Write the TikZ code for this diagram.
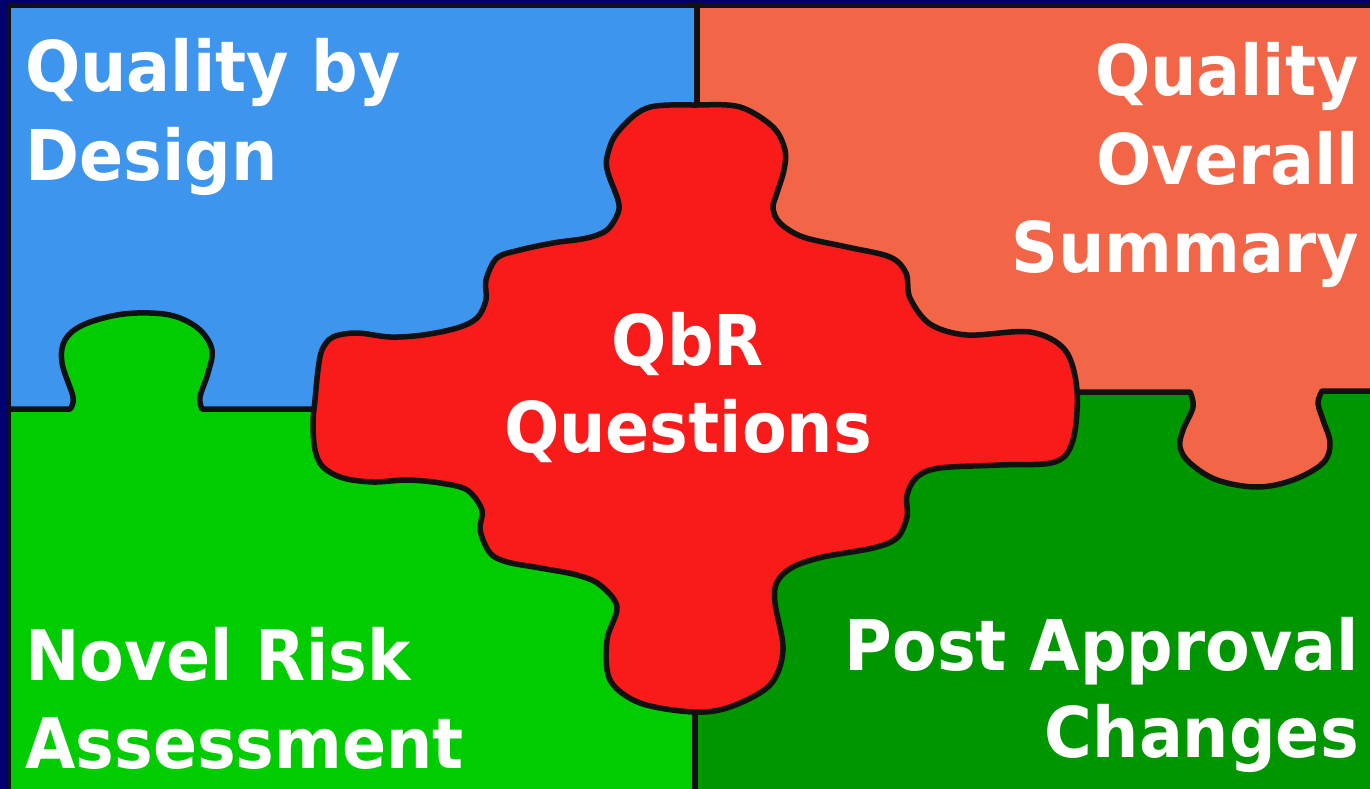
\documentclass[tikz,border=0pt]{standalone}
\usepackage{fontspec}
\newfontfamily\lab{DejaVu Sans}[FakeStretch=0.93]
\definecolor{navy}{HTML}{00006E}
\definecolor{qblue}{HTML}{3D95EE}
\definecolor{qsalmon}{HTML}{F26546}
\definecolor{qgreen}{HTML}{00CC00}
\definecolor{qdgreen}{HTML}{009600}
\definecolor{qred}{HTML}{F91A1A}
\definecolor{qline}{HTML}{111111}
\tikzset{
  lbl/.style={text=white, inner sep=0pt, font=\lab\bfseries\fontsize{70}{84}\selectfont},
  edge/.style={draw=qline, line width=5.5pt, line join=round, line cap=round},
}
\begin{document}
\begin{tikzpicture}[x=1pt,y=-1pt]
\useasboundingbox (0,0) rectangle (1370,789);
% frame
\fill[navy] (0,0) rectangle (1370,789);
\fill[qline] (8,3) rectangle (1370,789);
% quadrants
\fill[qblue] (11,8) rectangle (697,409);
\fill[qsalmon] (697,8) rectangle (1370,391);
\fill[qgreen] (11,409) rectangle (696,789);
\fill[qdgreen] (696,391) rectangle (1370,789);
% green tab into blue
\fill[qgreen] plot[smooth, tension=0.6] coordinates {(70,409) (73,397) (62,363) (65,340) (83,325) (117,315) (150,313) (177,317) (200,330) (212,350) (208,373) (200,397) (202,409)} -- cycle;
% salmon tab into dark green
\fill[qsalmon] plot[smooth, tension=0.6] coordinates {(1190,391) (1193,407) (1183,430) (1180,447) (1190,463) (1217,480) (1257,487) (1293,480) (1323,463) (1330,443) (1323,420) (1318,403) (1322,391)} -- cycle;
% dividing lines
\draw[edge] (11,409) -- plot[smooth, tension=0.6] coordinates {(70,409) (73,397) (62,363) (65,340) (83,325) (117,315) (150,313) (177,317) (200,330) (212,350) (208,373) (200,397) (202,409)} -- (330,409);
\draw[edge] (1060,392) -- plot[smooth, tension=0.6] coordinates {(1190,392) (1193,407) (1183,430) (1180,447) (1190,463) (1217,480) (1257,487) (1293,480) (1323,463) (1330,443) (1323,420) (1318,403) (1322,391)} -- (1372,391);
\draw[edge] (697,5) -- (697,150);
\draw[edge] (695,680) -- (695,792);
% central piece
\filldraw[fill=qred, edge] plot[smooth cycle, tension=0.55] coordinates {
(697,105) (740,107) (773,127) (785,150) (784,170) (777,193) (773,208) (780,223) (803,237) (847,247) (890,257) (906,273) (910,298) (930,324) (967,335) (1030,332) (1065,350) (1077,390) (1073,440) (1055,462) (1000,465) (940,468) (917,477) (907,495) (907,517) (897,538) (873,548) (823,557) (793,567) (777,582) (775,603) (783,650) (770,685) (730,707) (693,712) (640,703) (610,680) (607,640) (617,607) (600,585) (577,575) (540,568) (507,562) (490,553) (480,530) (482,510) (467,490) (440,483) (407,480) (373,482) (343,478) (323,467) (315,450) (313,423) (315,400) (318,370) (322,350) (333,337) (357,333) (390,337) (423,335) (457,328) (477,318) (486,300) (486,280) (497,258) (520,250) (553,243) (587,238) (607,230) (618,213) (618,200) (608,173) (607,157) (617,133) (647,108)};
% labels
\node[lbl, anchor=base west] (qbd1) at (25,92) {Quality by};
\node[lbl, anchor=base west] (qbd2) at (25,180) {Design};
\node[lbl, anchor=base east] (qos1) at (1359,96) {Quality};
\node[lbl, anchor=base east] (qos2) at (1359,184) {Overall};
\node[lbl, anchor=base east] (qos3) at (1359,272) {Summary};
\node[lbl, anchor=base] (qbr1) at (688,365) {QbR};
\node[lbl, anchor=base] (qbr2) at (688,452) {Questions};
\node[lbl, anchor=base west] (nra1) at (25,680) {Novel Risk};
\node[lbl, anchor=base west] (nra2) at (25,768) {Assessment};
\node[lbl, anchor=base east] (pac1) at (1359,670) {Post Approval};
\node[lbl, anchor=base east] (pac2) at (1359,757) {Changes};
\end{tikzpicture}
\end{document}
